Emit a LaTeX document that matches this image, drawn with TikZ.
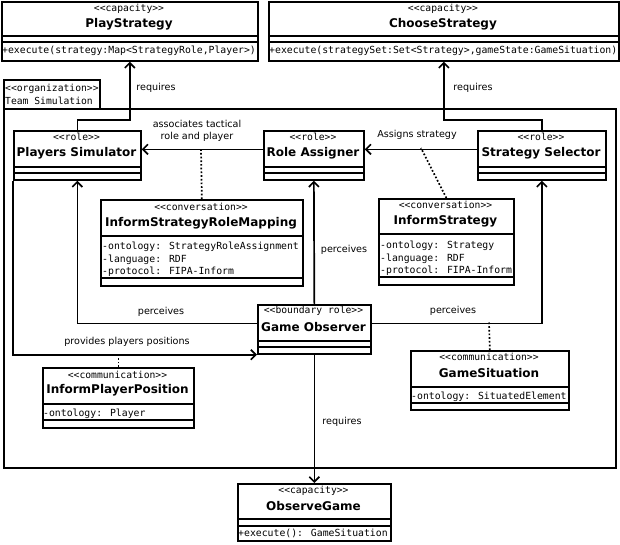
\documentclass[tikz,border=0pt]{standalone}
\usepackage{fontspec}
\setmainfont{DejaVu Sans}
\newfontfamily\monof{DejaVu Sans Mono}
\usetikzlibrary{arrows.meta}
\newcommand\umlbox[5]{\node[box, minimum width=#4pt, minimum height=#5pt] (#1) at (#2,#3) {};}
\begin{document}
\begin{tikzpicture}[x=1pt,y=-1pt,
  box/.style={draw, line width=1.7pt, inner sep=0, anchor=north west, fill=white},
  sep/.style={line width=1.7pt},
  stereo/.style={font=\monof\fontsize{9.7}{11}\selectfont, inner sep=0},
  title/.style={font=\bfseries\fontsize{12}{13}\selectfont, inner sep=0},
  attr/.style={font=\monof\fontsize{9.8}{11}\selectfont, inner sep=0, anchor=west},
  lbl/.style={font=\fontsize{9.6}{11}\selectfont, inner sep=0, align=center},
  conn/.style={line width=1.7pt, -{Straight Barb[length=5pt,width=10pt,line width=1.7pt]}},
  dots/.style={line width=1.7pt, dotted}]
\useasboundingbox (0,0) rectangle (620,544);
\fill[white] (0,0) rectangle (620,544);

% organization frame
\umlbox{team}{3}{108}{612}{359}
\umlbox{orgtab}{3}{79}{96}{29}
\node[stereo, anchor=west, align=left, font=\monof\fontsize{9.7}{13}\selectfont] (orgtxt) at (5,94.5) {<{}<organization>{}>\\Team Simulation};

% PlayStrategy
\umlbox{ps}{1}{1}{256}{59}
\draw[sep] (1,36) -- (257,36) (1,42) -- (257,42);
\node[stereo] (ps-s) at (129,9) {<{}<capacity>{}>};
\node[title] (ps-t) at (129,24) {PlayStrategy};
\node[attr] (ps-o) at (2,51) {+execute(strategy:Map<StrategyRole,Player>)};

% ChooseStrategy
\umlbox{cs}{268}{1}{350}{59}
\draw[sep] (268,36) -- (618,36) (268,42) -- (618,42);
\node[stereo] (cs-s) at (443,9) {<{}<capacity>{}>};
\node[title] (cs-t) at (443,24) {ChooseStrategy};
\node[attr] (cs-o) at (269,51) {+execute(strategySet:Set<Strategy>,gameState:GameSituation)};

% Players Simulator
\umlbox{psim}{13}{130}{127}{49}
\draw[sep] (13,167) -- (140,167) (13,173) -- (140,173);
\node[stereo] (psim-s) at (76.5,137) {<{}<role>{}>};
\node[title] (psim-t) at (76.5,153) {Players Simulator};

% Role Assigner
\umlbox{ra}{263}{130}{100}{49}
\draw[sep] (263,167) -- (363,167) (263,173) -- (363,173);
\node[stereo] (ra-s) at (313,137) {<{}<role>{}>};
\node[title] (ra-t) at (313,153) {Role Assigner};

% Strategy Selector
\umlbox{ss}{477}{130}{128}{49}
\draw[sep] (477,167) -- (605,167) (477,173) -- (605,173);
\node[stereo] (ss-s) at (541,137) {<{}<role>{}>};
\node[title] (ss-t) at (541,153) {Strategy Selector};

% InformStrategyRoleMapping
\umlbox{isrm}{100}{199}{202}{86}
\draw[sep] (100,236) -- (302,236) (100,278) -- (302,278);
\node[stereo] (isrm-s) at (201,207) {<{}<conversation>{}>};
\node[title] (isrm-t) at (201,223) {InformStrategyRoleMapping};
\node[attr] (isrm-a1) at (102,247) {-ontology: StrategyRoleAssignment};
\node[attr] (isrm-a2) at (102,259.5) {-language: RDF};
\node[attr] (isrm-a3) at (102,272) {-protocol: FIPA-Inform};

% InformStrategy
\umlbox{is}{378}{198}{135}{86}
\draw[sep] (378,234) -- (513,234) (378,277) -- (513,277);
\node[stereo] (is-s) at (445.5,205) {<{}<conversation>{}>};
\node[title] (is-t) at (445.5,221) {InformStrategy};
\node[attr] (is-a1) at (380,246) {-ontology: Strategy};
\node[attr] (is-a2) at (380,258.5) {-language: RDF};
\node[attr] (is-a3) at (380,271) {-protocol: FIPA-Inform};

% Game Observer
\umlbox{go}{257}{304}{113}{49}
\draw[sep] (257,341) -- (370,341) (257,347) -- (370,347);
\node[stereo] (go-s) at (313.5,311) {<{}<boundary role>{}>};
\node[title] (go-t) at (313.5,327) {Game Observer};

% InformPlayerPosition
\umlbox{ipp}{42}{367}{151}{60}
\draw[sep] (42,404) -- (193,404) (42,420) -- (193,420);
\node[stereo] (ipp-s) at (117.5,375) {<{}<communication>{}>};
\node[title] (ipp-t) at (117.5,390) {InformPlayerPosition};
\node[attr] (ipp-a1) at (43,414) {-ontology: Player};

% GameSituation
\umlbox{gs}{410}{350}{158}{59}
\draw[sep] (410,387) -- (568,387) (410,403) -- (568,403);
\node[stereo] (gs-s) at (489,357) {<{}<communication>{}>};
\node[title] (gs-t) at (489,373) {GameSituation};
\node[attr] (gs-a1) at (411,397) {-ontology: SituatedElement};

% ObserveGame
\umlbox{og}{237}{483}{153}{57}
\draw[sep] (237,519) -- (390,519) (237,526) -- (390,526);
\node[stereo] (og-s) at (313.5,491) {<{}<capacity>{}>};
\node[title] (og-t) at (313.5,506) {ObserveGame};
\node[attr] (og-o) at (238,533) {+execute(): GameSituation};

% connectors
\draw[conn] (psim.north) -- ++(0,-10) -| (ps.south);
\draw[conn] (ss.north) -- ++(0,-10) -| (cs.south);
\draw[conn] ([yshift=6pt]ra.west) -- ([yshift=6pt]psim.east);
\draw[conn] ([yshift=6pt]ss.west) -- ([yshift=6pt]ra.east);
\draw[conn] ([yshift=6pt]go.west) -| (psim.south);
\draw[conn] (go.north) -- (ra.south);
\draw[conn] ([yshift=6pt]go.east) -| (ss.south);
\draw[conn] (psim.south west) |- (go.south west);
\draw[conn] (go.south) -- (og.north);

% dotted association links
\coordinate (mapPt) at (201,149);
\coordinate (assignPt) at (421,148);
\coordinate (situPt) at (489,322.5);
\draw[dots] (isrm.north) -- (mapPt);
\draw[dots] (is.north) -- (assignPt);
\draw[dots] (gs.north) -- (situPt);
\draw[dots] (ipp.north) -- (ipp.north |- go.south);

% labels
\node[lbl] (l1) at (156,88) {requires};
\node[lbl] (l2) at (473,88) {requires};
\node[lbl, font=\fontsize{9.6}{12}\selectfont] (l3) at (197,131) {associates tactical\\role and player};
\node[lbl] (l4) at (417,135) {Assigns strategy};
\node[lbl] (l5) at (161,312) {perceives};
\node[lbl] (l6) at (344,250) {perceives};
\node[lbl] (l7) at (453,311) {perceives};
\node[lbl] (l8) at (127,342) {provides players positions};
\node[lbl] (l9) at (342,422) {requires};
\end{tikzpicture}
\end{document}
